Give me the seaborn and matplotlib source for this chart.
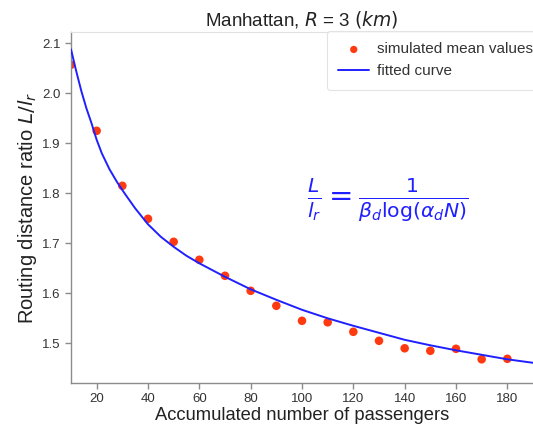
import matplotlib
matplotlib.use("Agg")
import matplotlib.pyplot as plt
import seaborn as sns
import pandas as pd

# simulated mean values
passengers = [10, 20, 30, 40, 50, 60, 70, 80, 90, 100, 110, 120, 130, 140, 150, 160, 170, 180]
ratio = [2.057, 1.925, 1.815, 1.749, 1.703, 1.667, 1.635, 1.605, 1.575, 1.545, 1.542, 1.523,
         1.505, 1.490, 1.485, 1.489, 1.468, 1.469]

# fitted curve
curve_x = [10, 12, 14, 16, 18, 20, 22, 25, 28, 31, 35, 40, 45, 50, 55, 60, 70, 80, 90, 100,
           110, 120, 130, 140, 150, 160, 170, 180, 190]
curve_y = [2.088, 2.045, 2.005, 1.970, 1.940, 1.907, 1.880, 1.848, 1.822, 1.799, 1.770, 1.738,
           1.713, 1.693, 1.675, 1.660, 1.633, 1.608, 1.587, 1.567, 1.550, 1.535, 1.521, 1.507,
           1.496, 1.486, 1.477, 1.468, 1.461]

x_ticks = [20, 40, 60, 80, 100, 120, 140, 160, 180]
y_ticks = [1.5, 1.6, 1.7, 1.8, 1.9, 2.0, 2.1]

sns.set_style("ticks")
plt.rcParams['font.family'] = ['Liberation Sans', 'DejaVu Sans']

W, H = 533, 429
fig = plt.figure(figsize=(W / 100, H / 100), dpi=100)
ax = fig.add_axes([71 / W, 46 / H, 462 / W, 351 / H])

pts = pd.DataFrame({"x": passengers, "y": ratio})
crv = pd.DataFrame({"x": curve_x, "y": curve_y})

sns.scatterplot(data=pts, x="x", y="y", ax=ax, color="#ff3a10", s=38, edgecolor="none",
                label="simulated mean values", zorder=2)
sns.lineplot(data=crv, x="x", y="y", ax=ax, color="#2020ff", linewidth=1.4,
             label="fitted curve", zorder=3)

ax.set_xlim(10, 190)
ax.set_ylim(1.4206, 2.1226)
ax.set_xticks(x_ticks)
ax.set_yticks(y_ticks)
ax.set_xticklabels([str(v) for v in x_ticks])
ax.set_yticklabels([f"{v:.1f}" for v in y_ticks])

for s in ["left", "bottom"]:
    ax.spines[s].set_color("#8c8c8c")
    ax.spines[s].set_linewidth(1.0)
ax.spines["top"].set_color("#e0e0e0")
ax.spines["right"].set_visible(False)
ax.tick_params(axis="both", colors="#8c8c8c", labelcolor="#333333", labelsize=9.5,
               length=4, width=1)

ax.set_title("Manhattan, $R$ = 3 $(km)$", fontsize=13.5, color="#222222", pad=5)
ax.set_xlabel("Accumulated number of passengers", fontsize=13.2, color="#222222", labelpad=1)
ax.set_ylabel("Routing distance ratio $L/l_r$", fontsize=14.5, color="#222222", labelpad=2)

ax.text(388 / W, 1 - 200 / H, r"$\frac{L}{l_r} = \frac{1}{\beta_d \log(\alpha_d N)}$",
        transform=fig.transFigure, fontsize=21, color="#2020ff", ha="center", va="center")

leg = ax.legend(loc="upper left", bbox_to_anchor=(327 / W, 1 - 31 / H),
                bbox_transform=fig.transFigure, fontsize=11, frameon=True,
                labelspacing=0.5, borderpad=0.75, handlelength=2.0, handletextpad=0.5,
                borderaxespad=0, markerscale=0.85)
leg.get_frame().set_edgecolor("#dddddd")
leg.get_frame().set_linewidth(0.8)
for t in leg.get_texts():
    t.set_color("#333333")

fig.savefig("out.png", dpi=100)
